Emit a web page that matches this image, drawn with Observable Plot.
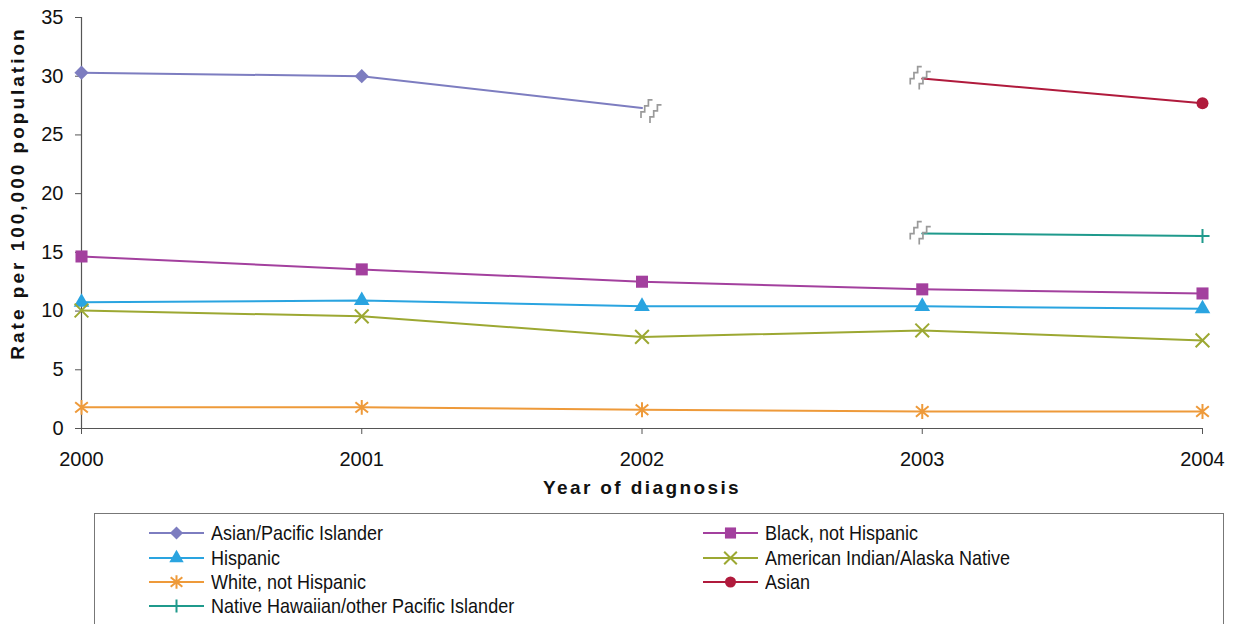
<!DOCTYPE html>
<html><head><meta charset="utf-8">
<script src="https://cdn.jsdelivr.net/npm/d3@7"></script>
<script src="https://cdn.jsdelivr.net/npm/@observablehq/plot@0.6"></script>
<style>
body{margin:0;background:#fff;font-family:"Liberation Sans",Arial,sans-serif;}
#chart{position:absolute;left:0;top:0;}
#legend{position:absolute;left:94px;top:513px;width:1130px;height:140px;border:1px solid #777;box-sizing:border-box;}
.item{position:absolute;display:flex;align-items:center;height:24px;font-size:18px;color:#111;white-space:nowrap;}
.item svg{margin-right:7px;overflow:visible}
.item span{display:inline-block;transform:scaleY(1.1);}
</style></head><body>
<div id="chart"></div><div id="legend"></div>
<script>
// ---- data ----
const years = [2000, 2001, 2002, 2003, 2004];
const seriesNames = [
  "Asian/Pacific Islander",
  "Black, not Hispanic",
  "Hispanic",
  "American Indian/Alaska Native",
  "White, not Hispanic",
  "Asian",
  "Native Hawaiian/other Pacific Islander"
];
const asianPacificIslander = [30.3, 30.0, 27.3, null, null];
const blackNotHispanic     = [14.65, 13.55, 12.5, 11.85, 11.5];
const hispanic             = [10.75, 10.9, 10.4, 10.4, 10.2];
const aian                 = [10.05, 9.55, 7.8, 8.35, 7.5];
const whiteNotHispanic     = [1.8, 1.8, 1.6, 1.45, 1.45];
const asian                = [null, null, null, 29.8, 27.7];
const nhopi                = [null, null, null, 16.6, 16.4];
const seriesValues = [asianPacificIslander, blackNotHispanic, hispanic, aian, whiteNotHispanic, asian, nhopi];
const yTicks = [0, 5, 10, 15, 20, 25, 30, 35];
const xLabel = "Year of diagnosis";
const yLabel = "Rate per 100,000 population";
// series ends where the classification changed (break marks, no data marker)
const breakPoints = [
  {series: "Asian/Pacific Islander", year: 2002},
  {series: "Asian", year: 2003},
  {series: "Native Hawaiian/other Pacific Islander", year: 2003}
];

// ---- styles ----
const asteriskSym = {draw(ctx, size) {
  const r = Math.sqrt(size) * 0.6;
  ctx.moveTo(0, -r); ctx.lineTo(0, r);
  ctx.moveTo(-r * 0.85, -r * 0.7); ctx.lineTo(r * 0.85, r * 0.7);
  ctx.moveTo(-r * 0.85, r * 0.7); ctx.lineTo(r * 0.85, -r * 0.7);
}};
const zigzag = {draw(ctx) {
  const stair = (ox, oy) => {
    ctx.moveTo(ox - 10, oy + 8); ctx.lineTo(ox - 10, oy + 2);
    ctx.lineTo(ox - 6.3, oy + 2); ctx.lineTo(ox - 6.3, oy - 4);
    ctx.lineTo(ox - 2.6, oy - 4); ctx.lineTo(ox - 2.6, oy - 10);
    ctx.lineTo(ox + 1.5, oy - 10);
  };
  stair(0, 0); stair(9, 5);
}};
const styles = {
  "Asian/Pacific Islander": {color: "#7d7dc0", symbol: d3.symbolDiamond2, r: 6.4, filled: true, bdx: 9, bdy: 2},
  "Black, not Hispanic": {color: "#a3409e", symbol: d3.symbolSquare, r: 6.8, filled: true},
  "Hispanic": {color: "#2aa4e0", symbol: d3.symbolTriangle, r: 5.8, filled: true},
  "American Indian/Alaska Native": {color: "#9ca832", symbol: d3.symbolTimes, r: 6.3, filled: false},
  "White, not Hispanic": {color: "#ee9a3a", symbol: asteriskSym, r: 7, filled: false},
  "Asian": {color: "#b01a3c", symbol: d3.symbolCircle, r: 6, filled: true, bdx: -2, bdy: -2},
  "Native Hawaiian/other Pacific Islander": {color: "#1f9a8c", symbol: d3.symbolPlus, r: 4.6, filled: false, bdx: -2, bdy: -2}
};

// ---- table ----
const rows = [];
seriesNames.forEach((s, i) => seriesValues[i].forEach((v, j) => {
  if (v != null) rows.push({series: s, year: years[j], value: v});
}));
const isBreak = d => breakPoints.some(b => b.series === d.series && b.year === d.year);
const markerRows = rows.filter(d => !isBreak(d));
const breakRows = rows.filter(isBreak);

const dotMarks = seriesNames.map(s => {
  const st = styles[s];
  const data = markerRows.filter(d => d.series === s);
  return Plot.dot(data, {
    x: "year", y: "value", symbol: st.symbol, r: st.r,
    fill: st.filled ? st.color : "none",
    stroke: st.filled ? "none" : st.color,
    strokeWidth: st.filled ? 0 : 2
  });
});
const breakMarks = breakRows.map(d => Plot.dot([d], {
  x: "year", y: "value", symbol: zigzag, r: 5,
  stroke: "#9a9a9a", fill: "none", strokeWidth: 1.7,
  dx: styles[d.series].bdx, dy: styles[d.series].bdy
}));

const plot = Plot.plot({
  width: 1236, height: 505,
  marginTop: 17, marginRight: 34, marginBottom: 77, marginLeft: 81,
  style: {fontFamily: '"Liberation Sans", Arial, sans-serif', fontSize: "19px", color: "#111", background: "white"},
  x: {domain: [2000, 2004]},
  y: {domain: [0, 35]},
  color: {domain: seriesNames, range: seriesNames.map(s => styles[s].color)},
  marks: [
    Plot.axisY({ticks: yTicks, tickSize: 6, tickPadding: 12, fontSize: 20, label: null, stroke: "#555"}),
    Plot.axisX({ticks: years, tickFormat: d => String(d), tickSize: 6, tickPadding: 17, fontSize: 20, label: null, stroke: "#555"}),
    Plot.ruleX([2000], {stroke: "#555", strokeWidth: 1.2}),
    Plot.ruleY([0], {stroke: "#555", strokeWidth: 1.2}),
    Plot.line(rows, {x: "year", y: "value", z: "series", stroke: "series", strokeWidth: 2}),
    ...dotMarks,
    ...breakMarks,
    Plot.text([xLabel], {frameAnchor: "bottom", textAnchor: "middle", dy: 65, fontWeight: "bold", fontSize: 19, fill: "#111"}),
    Plot.text([yLabel], {frameAnchor: "left", textAnchor: "middle", rotate: -90, dx: -64, dy: -30, fontWeight: "bold", fontSize: 19, fill: "#111"})
  ]
});
plot.querySelectorAll("text").forEach(t => {
  if (t.textContent === xLabel) t.style.letterSpacing = "2.4px";
  if (t.textContent === yLabel) t.style.letterSpacing = "3px";
});
document.getElementById("chart").appendChild(plot);

// ---- legend ----
const legend = document.getElementById("legend");
const colX = [54, 608];
const rowY = [7, 32, 56, 80];
seriesNames.forEach((s, i) => {
  const st = styles[s];
  const item = document.createElement("div");
  item.className = "item";
  item.style.left = colX[i % 2] + "px";
  item.style.top = rowY[Math.floor(i / 2)] + "px";
  const svg = d3.create("svg").attr("width", 55).attr("height", 20);
  svg.append("line").attr("x1", 0).attr("x2", 55).attr("y1", 10).attr("y2", 10)
    .attr("stroke", st.color).attr("stroke-width", 2);
  svg.append("path")
    .attr("transform", "translate(27.5,10)")
    .attr("d", d3.symbol(st.symbol, Math.PI * st.r * st.r * 0.85)())
    .attr("fill", st.filled ? st.color : "none")
    .attr("stroke", st.filled ? "none" : st.color)
    .attr("stroke-width", 2);
  item.appendChild(svg.node());
  const span = document.createElement("span");
  span.textContent = s;
  item.appendChild(span);
  legend.appendChild(item);
});
</script>
</body></html>
